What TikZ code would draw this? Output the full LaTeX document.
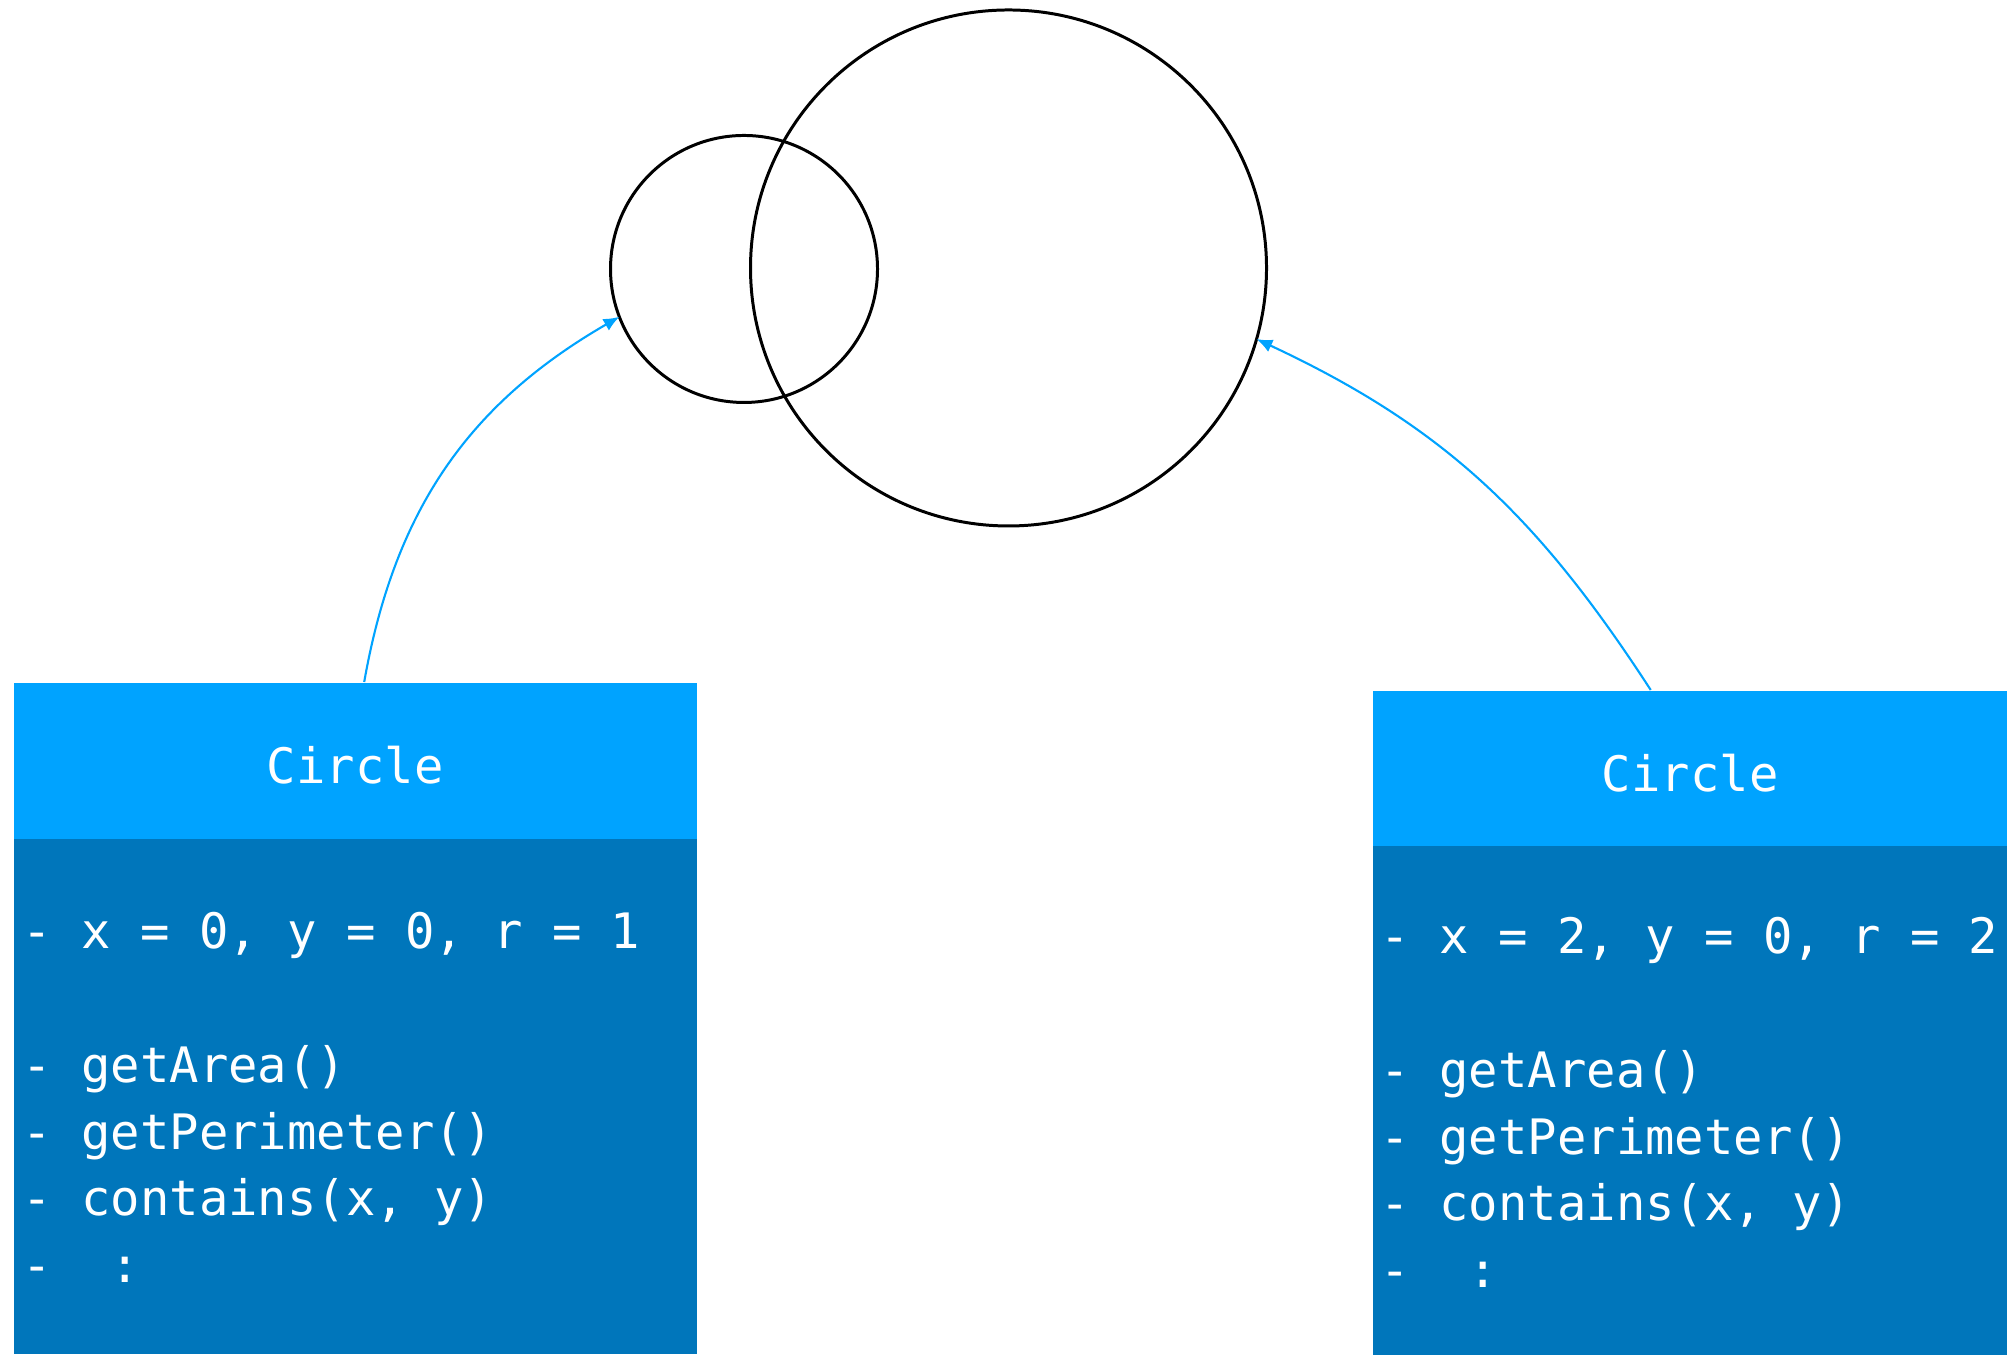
\documentclass[tikz,border=0pt]{standalone}
\usepackage{fontspec}
\setmonofont{DejaVu Sans Mono}
\usetikzlibrary{arrows.meta}
\definecolor{hdrblue}{RGB}{0,163,255}
\definecolor{bodyblue}{RGB}{0,118,187}
\newcommand{\codefont}{\ttfamily\fontsize{13.9}{16}\selectfont}
\tikzset{ring/.style = {draw, circle, line width = 0.85pt, inner sep = 0, outer sep = 0}}
\tikzset{header/.style = {fill = hdrblue, text = white, inner sep = 0, text height = 0.47cm,
                          anchor = north west, font = \codefont}}
\tikzset{body/.style = {fill = bodyblue, inner sep = 0, anchor = north west}}
\tikzset{code/.style = {anchor = base west, text = white, inner sep = 0, font = \codefont}}
\tikzset{link/.style = {draw = hdrblue, line width = 0.6pt,
                        -{Latex[length = 4.5pt, width = 3.8pt]}}}

\begin{document}
\begin{tikzpicture}
    \useasboundingbox (0, 0) rectangle (20.07, 13.55);
    % the two circles
    \node[ring, minimum size = 2.67cm] (small) at (7.44, 10.86) {};
    \node[ring, minimum size = 5.16cm] (big) at (10.085, 10.87) {};
    % left object
    \node[body, minimum width = 6.83cm, minimum height = 5.15cm] (bodyA) at (0.13, 5.17) {};
    \node[header, minimum width = 6.83cm, minimum height = 1.56cm] (hdrA) at (0.13, 6.73) {Circle};
    \foreach \k/\txt in {0/{- x = 0, y = 0, r = 1}, 2/{- getArea()}, 3/{- getPerimeter()},
                         4/{- contains(x, y)}, 5/{-~~:}} {
        \node[code] (codeA\k) at (0.22, {4.06 - 0.667*\k}) {\txt};
    }
    % right object
    \node[body, minimum width = 6.35cm, minimum height = 5.10cm] (bodyB) at (13.72, 5.10) {};
    \node[header, minimum width = 6.35cm, minimum height = 1.55cm] (hdrB) at (13.72, 6.65) {Circle};
    \foreach \k/\txt in {0/{- x = 2, y = 0, r = 2}, 2/{- getArea()}, 3/{- getPerimeter()},
                         4/{- contains(x, y)}, 5/{-~~:}} {
        \node[code] (codeB\k) at (13.80, {4.01 - 0.667*\k}) {\txt};
    }
    % references
    \draw[link] ([xshift = 0.9mm]hdrA.north) to[out = 80, in = 210] (small.201);
    \draw[link] ([xshift = -3.95mm]hdrB.north) to[out = 123, in = 335] (big.344);
\end{tikzpicture}
\end{document}
